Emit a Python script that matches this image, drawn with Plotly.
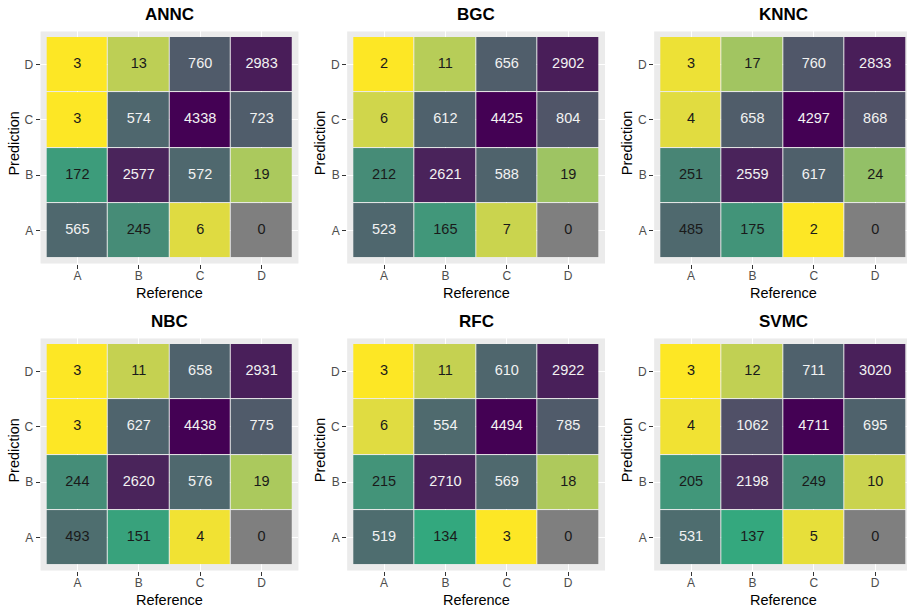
import plotly.graph_objects as go
import math

categories = ["A", "B", "C", "D"]  # Reference (x) and Prediction (y), bottom to top
models = ["ANNC", "BGC", "KNNC", "NBC", "RFC", "SVMC"]

# rows = Prediction A, B, C, D ; columns = Reference A, B, C, D
annc = [[565, 245, 6, 0], [172, 2577, 572, 19], [3, 574, 4338, 723], [3, 13, 760, 2983]]
bgc = [[523, 165, 7, 0], [212, 2621, 588, 19], [6, 612, 4425, 804], [2, 11, 656, 2902]]
knnc = [[485, 175, 2, 0], [251, 2559, 617, 24], [4, 658, 4297, 868], [3, 17, 760, 2833]]
nbc = [[493, 151, 4, 0], [244, 2620, 576, 19], [3, 627, 4438, 775], [3, 11, 658, 2931]]
rfc = [[519, 134, 3, 0], [215, 2710, 569, 18], [6, 554, 4494, 785], [3, 11, 610, 2922]]
svmc = [[531, 137, 5, 0], [205, 2198, 249, 10], [4, 1062, 4711, 695], [3, 12, 711, 3020]]
matrices = [annc, bgc, knnc, nbc, rfc, svmc]

W, H = 907, 608
FONT = "Liberation Sans, Arial, Helvetica, sans-serif"


# ---------- Lab interpolation for the colour gradient ----------
def _lin(c):
    c = c / 255.0
    return c / 12.92 if c <= 0.04045 else ((c + 0.055) / 1.055) ** 2.4


def _delin(c):
    c = 12.92 * c if c <= 0.0031308 else 1.055 * c ** (1 / 2.4) - 0.055
    return max(0, min(255, round(c * 255)))


def hex2lab(h):
    r, g, b = (_lin(int(h[i:i + 2], 16)) for i in (1, 3, 5))
    X = (0.4124 * r + 0.3576 * g + 0.1805 * b) / 0.95047
    Y = 0.2126 * r + 0.7152 * g + 0.0722 * b
    Z = (0.0193 * r + 0.1192 * g + 0.9505 * b) / 1.08883
    f = lambda t: t ** (1 / 3) if t > 0.008856 else 7.787 * t + 16 / 116
    fx, fy, fz = f(X), f(Y), f(Z)
    return (116 * fy - 16, 500 * (fx - fy), 200 * (fy - fz))


def lab2rgb(L, a, b):
    fy = (L + 16) / 116
    fx = fy + a / 500
    fz = fy - b / 200
    finv = lambda t: t ** 3 if t ** 3 > 0.008856 else (t - 16 / 116) / 7.787
    X, Y, Z = finv(fx) * 0.95047, finv(fy), finv(fz) * 1.08883
    r = 3.2406 * X - 1.5372 * Y - 0.4986 * Z
    g = -0.9689 * X + 1.8758 * Y + 0.0415 * Z
    bb = 0.0557 * X - 0.2040 * Y + 1.0570 * Z
    return "rgb(%d,%d,%d)" % (_delin(max(r, 0)), _delin(max(g, 0)), _delin(max(bb, 0)))


LOW, MID, HIGH = "#FDE725", "#33A87E", "#440154"
MID_POS = 0.52
labL, labM, labH = hex2lab(LOW), hex2lab(MID), hex2lab(HIGH)
colorscale = []
N = 50
for s in range(N + 1):
    fr = s / N
    if fr <= MID_POS:
        t = fr / MID_POS
        p, q = labL, labM
    else:
        t = (fr - MID_POS) / (1 - MID_POS)
        p, q = labM, labH
    colorscale.append([fr, lab2rgb(*[p[i] + (q[i] - p[i]) * t for i in range(3)])])

# ---------- layout geometry (pixels) ----------
tile_w, tile_h = 61.4, 55.25
col_tile_left = [46.7, 353.3, 660.3]
row_tile_top = [37.0, 344.0]

fig = go.Figure()
layout = dict(
    width=W, height=H, margin=dict(l=0, r=0, t=0, b=0),
    paper_bgcolor="white", plot_bgcolor="#EBEBEB",
    showlegend=False, font=dict(family=FONT),
)
annotations = []

for k, (name, mat) in enumerate(zip(models, matrices)):
    r, c = divmod(k, 3)
    ax = "" if k == 0 else str(k + 1)
    bg_left = col_tile_left[c] - 0.1 * tile_w
    full_right = bg_left + 4.2 * tile_w
    bg_right = min(full_right, W)
    x_hi = 3.6 - (full_right - bg_right) / tile_w
    bg_top = row_tile_top[r] - 0.1 * tile_h
    bg_bot = bg_top + 4.2 * tile_h

    nz = [v for row in mat for v in row if v > 0]
    zmin, zmax = math.log10(min(nz)), math.log10(max(nz))
    z = [[math.log10(v) if v > 0 else None for v in row] for row in mat]
    zzero = [[1 if v == 0 else None for v in row] for row in mat]

    fig.add_trace(go.Heatmap(
        x=categories, y=categories, z=z, zmin=zmin, zmax=zmax,
        colorscale=colorscale, showscale=False, xgap=1, ygap=1,
        hoverongaps=False, xaxis="x" + ax, yaxis="y" + ax,
    ))
    fig.add_trace(go.Heatmap(
        x=categories, y=categories, z=zzero, zmin=0, zmax=2,
        colorscale=[[0, "#7F7F7F"], [1, "#7F7F7F"]], showscale=False,
        xgap=1, ygap=1, hoverongaps=False, xaxis="x" + ax, yaxis="y" + ax,
    ))
    xs, ys, txt, cols = [], [], [], []
    for i, row in enumerate(mat):
        for j, v in enumerate(row):
            xs.append(categories[j])
            ys.append(categories[i])
            txt.append(str(v))
            cols.append("#F2F2F2" if v > 500 else "#1A1A1A")
    fig.add_trace(go.Scatter(
        x=xs, y=ys, text=txt, mode="text",
        textfont=dict(color=cols, size=14.5, family=FONT),
        hoverinfo="skip", xaxis="x" + ax, yaxis="y" + ax,
    ))

    axis_common = dict(
        type="category", categoryorder="array", categoryarray=categories,
        showgrid=True, gridcolor="white", gridwidth=1.1, zeroline=False,
        showline=False, ticks="outside", ticklen=4, tickwidth=1.1,
        tickcolor="#333333", tickfont=dict(size=12, color="#4D4D4D", family=FONT),
        fixedrange=True,
    )
    layout["xaxis" + ax] = dict(
        axis_common, domain=[bg_left / W, bg_right / W], range=[-0.6, x_hi],
        anchor="y" + ax, ticklabelstandoff=-3,
    )
    layout["yaxis" + ax] = dict(
        axis_common, domain=[1 - bg_bot / H, 1 - bg_top / H], range=[-0.6, 3.6],
        anchor="x" + ax,
    )

    cx = (bg_left + full_right) / 2
    annotations.append(dict(
        text="<b>%s</b>" % name, x=cx / W, y=1 - (bg_top - 16.5) / H,
        xref="paper", yref="paper", showarrow=False,
        xanchor="center", yanchor="middle",
        font=dict(size=17, color="black", family=FONT),
    ))
    annotations.append(dict(
        text="Reference", x=cx / W, y=1 - (bg_bot + 29) / H,
        xref="paper", yref="paper", showarrow=False,
        xanchor="center", yanchor="middle",
        font=dict(size=14.5, color="black", family=FONT),
    ))
    annotations.append(dict(
        text="Prediction", x=(bg_left - 27.5) / W, y=1 - ((bg_top + bg_bot) / 2 - 4) / H,
        xref="paper", yref="paper", showarrow=False, textangle=-90,
        xanchor="center", yanchor="middle",
        font=dict(size=14.5, color="black", family=FONT),
    ))

layout["annotations"] = annotations
fig.update_layout(**layout)
fig.write_html(
    "out.html",
    config={"displayModeBar": False},
    post_script="document.body.style.margin='0';document.body.style.padding='0';"
                "document.body.style.overflow='hidden';",
)
